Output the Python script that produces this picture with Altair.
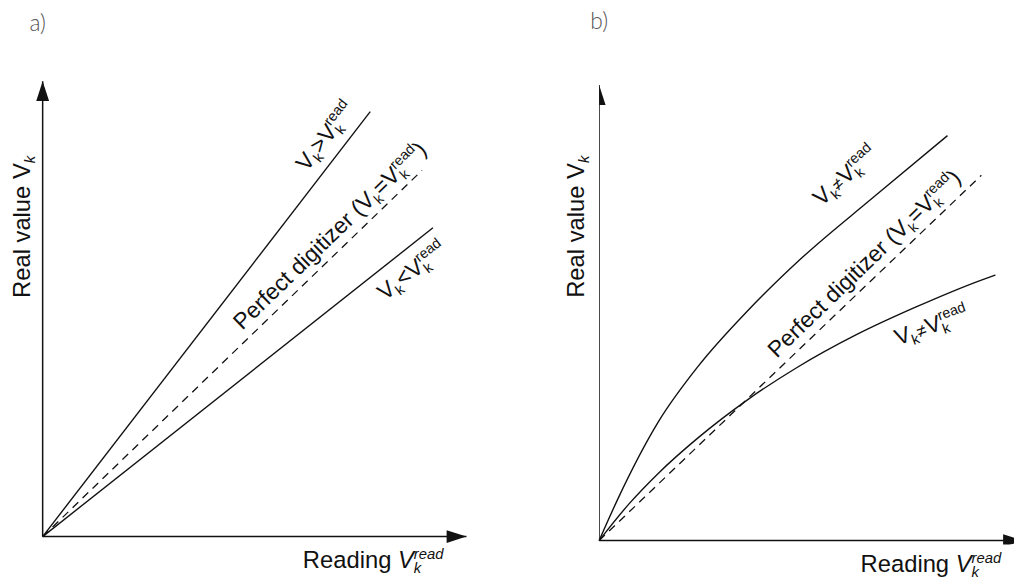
import altair as alt
import pandas as pd

# ---------------- data (abstract units: origin 0, axis ends at 100) ----------------
# Panel a: straight lines
a_upper_x = [0, 77.3]
a_upper_y = [0, 93.3]
a_ideal_x = [0, 89.5]
a_ideal_y = [0, 80.4]
a_lower_x = [0, 92.1]
a_lower_y = [0, 67.8]

# Panel b: curves
b_upper_x = [0, 4.4, 14.0, 23.4, 35.0, 47.4, 64.5, 82.2]
b_upper_y = [0, 9.1, 26.1, 38.3, 50.4, 61.7, 75.2, 88.9]
b_ideal_x = [0, 90.2]
b_ideal_y = [0, 80.2]
b_lower_x = [0, 7.0, 14.0, 23.4, 35.0, 46.7, 60.7, 74.8, 90.2, 93.5]
b_lower_y = [0, 8.0, 14.8, 22.6, 30.9, 38.0, 45.2, 51.3, 57.2, 58.3]

# Label anchors (x, y, angle) and token strings
a_label_x = [62.3, 47.1, 80.8, -3.0, 61.4]
a_label_y = [80.0, 45.2, 51.7, 52.4, -6.96]
a_label_angle = [308, 316, 322, 270, 0]
b_label_x = [52.5, 41.9, 70.5, -3.5, 61.7]
b_label_y = [73.3, 39.9, 42.8, 53.3, -6.9]
b_label_angle = [318, 316, 340, 270, 0]
a_label_kind = ["note", "note", "note", "axis", "axis"]

a_label_tokens = [
    [("V", "n"), ("k", "sub"), (">", "n"), ("V", "n"), ("k", "sub"), ("read", "sup")],
    [("Perfect digitizer (", "n"), ("V", "n"), ("k", "sub"), ("=", "n"), ("V", "n"),
     ("k", "sub"), ("read", "sup"), (")", "n")],
    [("V", "n"), ("k", "sub"), ("<", "n"), ("V", "n"), ("k", "sub"), ("read", "sup")],
    [("Real value V", "n"), ("k", "sub", True)],
    [("Reading ", "n"), ("V", "n", True), ("k", "sub", True), ("read", "sup", True)],
]
b_label_tokens = [
    [("V", "n"), ("k", "sub"), ("≠", "m"), ("V", "n"), ("k", "sub"), ("read", "sup")],
    [("Perfect digitizer (", "n"), ("V", "n"), ("k", "sub"), ("=", "n"), ("V", "n"),
     ("k", "sub"), ("read", "sup"), (")", "n")],
    [("V", "n"), ("k", "sub"), ("≠", "m"), ("V", "n"), ("k", "sub"), ("read", "sup")],
    [("Real value V", "n"), ("k", "sub", True)],
    [("Reading ", "n"), ("V", "n", True), ("k", "sub", True), ("read", "sup", True)],
]

panel_titles = ["a)", "b)"]
title_x = [-1.17, 0.0]
title_y = [112.6, 113.8]

# ---------------- styling ----------------
FONT = "Liberation Sans"
SIZES = {"note": (23, 14.5, 17.5), "axis": (24, 15, 18)}
INK = "#111111"
CHAR_W = {'V': .667, 'k': .5, '>': .584, '<': .584, '=': .584, '≠': .584, 'r': .333,
          'e': .556, 'a': .556, 'd': .556, '(': .333, ')': .333, ' ': .278, 'P': .667,
          'f': .278, 'c': .5, 't': .278, 'i': .222, 'g': .556, 'z': .5, 'R': .722,
          'l': .222, 'u': .556, 'v': .5, 'n': .556}


def text_w(s, size):
    return sum(CHAR_W.get(c, .556) for c in s) * size


def compose(tokens, kind_of_label):
    big, small, mid = SIZES[kind_of_label]
    out = []
    pos = 0.0
    prev = None
    for tok in tokens:
        txt, kind = tok[0], tok[1]
        ital = len(tok) > 2 and tok[2]
        size = {"n": big, "sub": small, "sup": small, "m": mid}[kind]
        dy = {"n": 0, "sub": 5, "sup": -9.5, "m": 0}[kind]
        w = text_w(txt, size)
        if kind == "sup" and prev is not None and prev[0] == "sub":
            start = prev[1]
            pos = max(pos, start + w)
        else:
            start = pos
            pos += w
        out.append((txt, start, dy, size, ital))
        prev = (kind, start)
    return out


def build_panel(idx, width, xdom, ydom, lines_solid, line_ideal, interp,
                lx, ly, langle, ltokens, clip_axes, anchor):
    xs = alt.Scale(domain=xdom, nice=False, zero=False)
    ys = alt.Scale(domain=ydom, nice=False, zero=False)

    def enc(**kw):
        return dict(x=alt.X("x:Q", scale=xs, axis=None),
                    y=alt.Y("y:Q", scale=ys, axis=None), **kw)

    layers = []
    # axes
    ax = pd.DataFrame({"x": [0, 0], "y": [0, 0], "x2": [0, 100], "y2": [100, 0]})
    layers.append(alt.Chart(ax).mark_rule(color=INK, strokeWidth=1.5, clip=clip_axes)
                  .encode(**enc(x2="x2:Q", y2="y2:Q")))
    arr = pd.DataFrame({"x": [0, 100], "y": [100, 0], "d": ["up", "right"]})
    layers.append(alt.Chart(arr).mark_point(filled=True, opacity=1, size=400,
                                            color=INK, strokeWidth=0, clip=clip_axes)
                  .encode(**enc(shape=alt.Shape("d:N", legend=None, scale=alt.Scale(
                      domain=["up", "right"],
                      range=["M0,0L-0.65,2L0.65,2Z", "M0,0L-2,-0.65L-2,0.65Z"])))))
    # solid lines
    rows = []
    for s, (xv, yv) in enumerate(lines_solid):
        for i, (a, b) in enumerate(zip(xv, yv)):
            rows.append({"x": a, "y": b, "s": s, "o": i})
    layers.append(alt.Chart(pd.DataFrame(rows)).mark_line(
        color=INK, strokeWidth=1.4, interpolate=interp)
        .encode(**enc(detail="s:N", order="o:Q")))
    # ideal dashed line
    dfi = pd.DataFrame({"x": line_ideal[0], "y": line_ideal[1]})
    layers.append(alt.Chart(dfi).mark_line(color=INK, strokeWidth=1.3,
                                           strokeDash=[8, 6]).encode(**enc()))
    # labels
    for x0, y0, ang, toks, lk in zip(lx, ly, langle, ltokens, a_label_kind):
        d = pd.DataFrame({"x": [x0], "y": [y0]})
        for txt, start, dy, size, ital in compose(toks, lk):
            props = dict(text=txt, align="left", baseline="alphabetic", font=FONT,
                         fontSize=size, color=INK, dx=round(start, 2), dy=dy)
            if ang:
                props["angle"] = ang
            if ital:
                props["fontStyle"] = "italic"
            layers.append(alt.Chart(d).mark_text(**props).encode(**enc()))
    # panel title
    dt = pd.DataFrame({"x": [title_x[idx]], "y": [title_y[idx]], "t": [panel_titles[idx]]})
    layers.append(alt.Chart(dt).mark_text(font="Lato", fontWeight=300, fontSize=23,
                                          color="#555555", align="center",
                                          baseline="middle")
                  .encode(**enc(text="t:N")))
    # invisible layout anchor
    da = pd.DataFrame({"x": [anchor[0]], "y": [anchor[1]]})
    layers.append(alt.Chart(da).mark_point(opacity=0, size=1, strokeWidth=0,
                                           filled=True).encode(**enc()))
    return alt.layer(*layers).properties(width=width, height=468)


panel_a = build_panel(0, 428, [0, 100], [-1.74, 100],
                      [(a_upper_x, a_upper_y), (a_lower_x, a_lower_y)],
                      (a_ideal_x, a_ideal_y), "linear",
                      a_label_x, a_label_y, a_label_angle, a_label_tokens,
                      False, (-7.94, 115.2))
panel_b = build_panel(1, 419, [0, 97.9], [-0.87, 100.87],
                      [(b_upper_x, b_upper_y), (b_lower_x, b_lower_y)],
                      (b_ideal_x, b_ideal_y), "monotone",
                      b_label_x, b_label_y, b_label_angle, b_label_tokens,
                      True, (97.9, -7.83))

chart = alt.hconcat(panel_a, panel_b, spacing=134, bounds="flush").properties(
    padding=0, background="white"
).configure_view(stroke=None)

chart.save("out.html", embed_options={"renderer": "svg", "actions": False})
